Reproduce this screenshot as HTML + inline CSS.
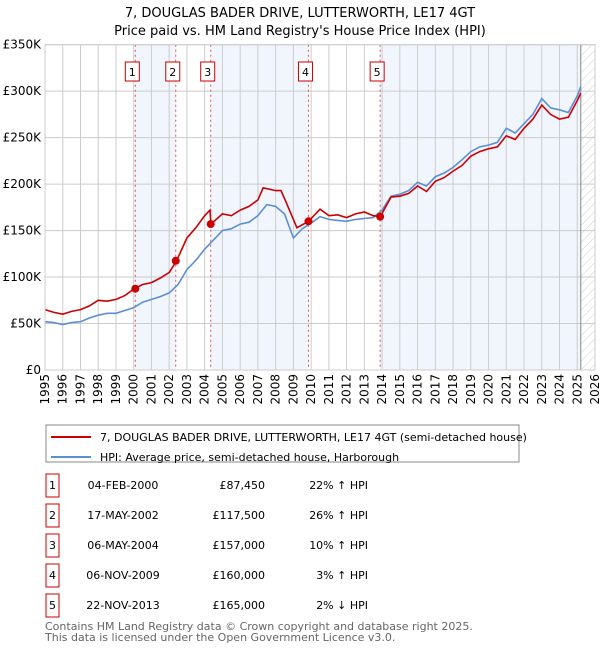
<!DOCTYPE html>
<html><head><meta charset="utf-8"><style>
body{margin:0;background:#fff;font-family:"Liberation Sans","DejaVu Sans",sans-serif;}
svg text{font-family:"DejaVu Sans","Liberation Sans",sans-serif;}
</style></head><body>
<svg width="600" height="650" id="chart" xmlns="http://www.w3.org/2000/svg">
<defs><pattern id="hatch" patternUnits="userSpaceOnUse" width="6" height="6" patternTransform="rotate(45)"><line x1="0" y1="0" x2="0" y2="6" stroke="#ccc" stroke-width="1"/></pattern></defs>
<text x="300" y="17" text-anchor="middle" font-size="13">7, DOUGLAS BADER DRIVE, LUTTERWORTH, LE17 4GT</text>
<text x="300" y="35" text-anchor="middle" font-size="13">Price paid vs. HM Land Registry's House Price Index (HPI)</text>
<g id="plot"></g>
<rect x="46" y="425" width="473" height="37" fill="#fff" stroke="#888"/>
<line x1="51" y1="437" x2="91" y2="437" stroke="#cc0000" stroke-width="2"/>
<text x="100" y="441" font-size="11">7, DOUGLAS BADER DRIVE, LUTTERWORTH, LE17 4GT (semi-detached house)</text>
<line x1="51" y1="457" x2="91" y2="457" stroke="#5b8fd4" stroke-width="2"/>
<text x="100" y="461" font-size="11">HPI: Average price, semi-detached house, Harborough</text>
<g id="table" font-size="11"></g>
<text x="45" y="630" font-size="11" fill="#666">Contains HM Land Registry data © Crown copyright and database right 2025.</text>
<text x="45" y="641" font-size="11" fill="#666">This data is licensed under the Open Government Licence v3.0.</text>
</svg>
<script>
const hpiYears=[1995,1995.5,1996,1996.5,1997,1997.5,1998,1998.5,1999,1999.5,2000,2000.5,2001,2001.5,2002,2002.5,2003,2003.5,2004,2004.5,2005,2005.5,2006,2006.5,2007,2007.5,2008,2008.5,2009,2009.5,2010,2010.5,2011,2011.5,2012,2012.5,2013,2013.5,2014,2014.5,2015,2015.5,2016,2016.5,2017,2017.5,2018,2018.5,2019,2019.5,2020,2020.5,2021,2021.5,2022,2022.5,2023,2023.5,2024,2024.5,2025,2025.2];
const hpiValues=[52,51,49,51,52,56,59,61,61,64,67,73,76,79,83,92,108,118,130,140,150,152,157,159,166,178,176,168,142,152,158,165,162,161,160,162,163,164,172,187,189,193,202,198,208,212,218,226,235,240,242,245,260,255,265,275,292,282,280,277,295,305];
const propYears=[1995,1995.5,1996,1996.5,1997,1997.5,1998,1998.5,1999,1999.5,2000,2000.5,2001,2001.5,2002,2002.4,2003,2003.5,2004,2004.3,2004.35,2005,2005.5,2006,2006.5,2007,2007.3,2008,2008.3,2008.6,2009.2,2009.85,2010.5,2011,2011.5,2012,2012.5,2013,2013.5,2013.9,2014.5,2015,2015.5,2016,2016.5,2017,2017.5,2018,2018.5,2019,2019.5,2020,2020.5,2021,2021.5,2022,2022.5,2023,2023.5,2024,2024.5,2025,2025.2];
const propValues=[65,62,60,63,65,69,75,74,76,80,87,92,94,99,105,117,142,153,166,172,157,168,166,172,176,183,196,193,193,180,153,160,173,166,167,164,168,170,166,165,186,187,190,198,192,203,207,214,220,230,235,238,240,252,248,260,270,285,275,270,272,290,298];
const saleDates=[2000.09,2002.37,2004.34,2009.85,2013.89];
const saleValues=[87.45,117.5,157,160,165];
const saleLabels=["1","2","3","4","5"];
const saleDateText=["04-FEB-2000","17-MAY-2002","06-MAY-2004","06-NOV-2009","22-NOV-2013"];
const salePriceText=["£87,450","£117,500","£157,000","£160,000","£165,000"];
const saleHpiText=["22% ↑ HPI","26% ↑ HPI","10% ↑ HPI","3% ↑ HPI","2% ↓ HPI"];
const yTicks=[0,50,100,150,200,250,300,350];
const yTickLabels=["£0","£50K","£100K","£150K","£200K","£250K","£300K","£350K"];
const xStart=1995,xEnd=2026,dataEnd=2025.2;

const NS="http://www.w3.org/2000/svg";
const X0=45,X1=595,Y0=370,Y1=44.7;
const xs=t=>X0+(t-xStart)/(xEnd-xStart)*(X1-X0);
const ys=v=>Y0-v/350*(Y0-Y1);
const plot=document.getElementById('plot');
function mk(tag,attrs,parent){const e=document.createElementNS(NS,tag);for(const k in attrs)e.setAttribute(k,attrs[k]);(parent||plot).appendChild(e);return e;}
// shading bands
const bounds=[...saleDates,dataEnd];
for(let i=0;i<saleDates.length;i+=2){
 const b=mk('rect',{x:xs(bounds[i]),y:Y1,width:xs(bounds[i+1])-xs(bounds[i]),height:Y0-Y1,fill:'#eef3fc',opacity:0.8});
 
 
}
const h=mk('rect',{x:xs(dataEnd),y:Y1,width:X1-xs(dataEnd),height:Y0-Y1,fill:'url(#hatch)'});


// grid
for(let yr=xStart;yr<=xEnd;yr++){
 const l=mk('line',{x1:xs(yr),x2:xs(yr),y1:Y1,y2:Y0,stroke:'#ccc','stroke-width':1});
 
 
 const t=mk('text',{x:0,y:0,'font-size':12,'text-anchor':'end',transform:`translate(${xs(yr)+4},${Y0+4}) rotate(-90)`});
 t.textContent=String(yr);
 
 
}
yTicks.forEach((v,i)=>{
 const l=mk('line',{x1:X0,x2:X1,y1:ys(v),y2:ys(v),stroke:'#ccc','stroke-width':1});
 
 
 const t=mk('text',{x:41,y:ys(v)+4,'font-size':12,'text-anchor':'end'});
 t.textContent=yTickLabels[i];
 
 
});
const el=mk('line',{x1:xs(dataEnd),x2:xs(dataEnd),y1:Y1,y2:Y0,stroke:'#888','stroke-width':1});


// sale vlines and labels
saleDates.forEach((d,i)=>{
 const l=mk('line',{x1:xs(d),x2:xs(d),y1:Y1,y2:Y0,stroke:'#e05050','stroke-width':1,'stroke-dasharray':'2,3'});
 
 
 const r=mk('rect',{x:xs(d)-10,y:62,width:14,height:19,fill:'#fff',stroke:'#cc0000'});
 
 
 const t=mk('text',{x:xs(d)-3,y:76,'font-size':11,'text-anchor':'middle'});
 t.textContent=saleLabels[i];
 
 
});
function path(yrs,vals,color,name){
 const d=yrs.map((t,i)=>(i?'L':'M')+xs(t).toFixed(1)+','+ys(vals[i]).toFixed(1)).join('');
 const p=mk('path',{d:d,fill:'none',stroke:color,'stroke-width':1.6});
 
 
}
path(hpiYears,hpiValues,'#5b8fd4','hpi-line');
path(propYears,propValues,'#cc0000','property-price-line');
saleDates.forEach((d,i)=>{
 const c=mk('circle',{cx:xs(d),cy:ys(saleValues[i]),r:4,fill:'#cc0000'});
 
 
});
const ax=mk('rect',{x:X0,y:Y1,width:X1-X0,height:Y0-Y1,fill:'none',stroke:'#ccc'});


// table
const tb=document.getElementById('table');
saleLabels.forEach((s,i)=>{
 const y=483+i*30;
 const r=mk('rect',{x:46,y:y-9,width:13,height:23,fill:'#fff',stroke:'#cc0000'},tb);
 
 
 const cells=[[52.5,s,'middle'],[123,saleDateText[i],'middle'],[265,salePriceText[i],'end'],[368,saleHpiText[i],'end']];
 cells.forEach(c=>{
  const t=mk('text',{x:c[0],y:y+6,'text-anchor':c[2]},tb);
  t.textContent=c[1];
  
  
 });
});
</script>
</body></html>
